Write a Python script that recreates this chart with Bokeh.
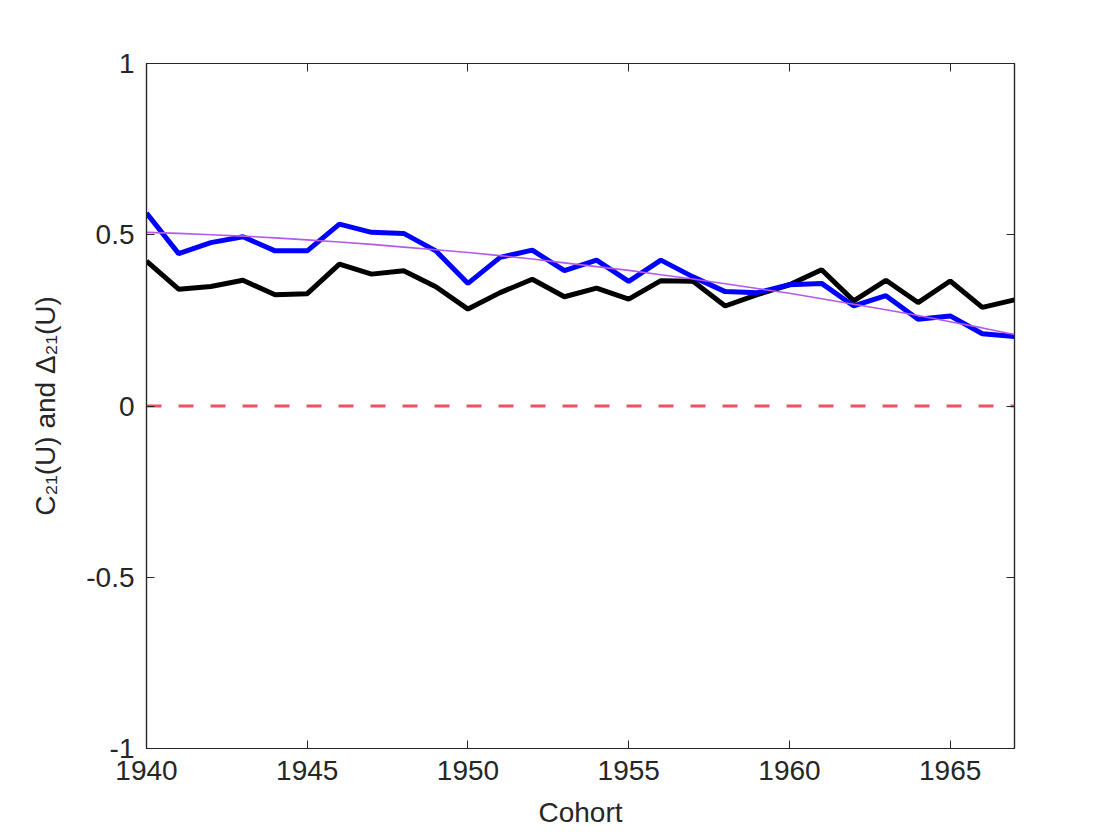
from bokeh.plotting import figure
from bokeh.models import LinearAxis, FixedTicker, Range1d
from bokeh.embed import file_html
from bokeh.resources import INLINE

years = list(range(1940, 1968))
blue_vals = [0.563, 0.445, 0.477, 0.494, 0.453, 0.453, 0.531, 0.507, 0.504, 0.453,
             0.358, 0.434, 0.455, 0.395, 0.426, 0.364, 0.426, 0.377, 0.334, 0.331,
             0.354, 0.358, 0.292, 0.322, 0.253, 0.263, 0.211, 0.203]
black_vals = [0.423, 0.341, 0.349, 0.367, 0.325, 0.328, 0.414, 0.385, 0.395, 0.348,
              0.283, 0.331, 0.370, 0.319, 0.344, 0.312, 0.366, 0.364, 0.292, 0.325,
              0.354, 0.398, 0.307, 0.367, 0.302, 0.365, 0.288, 0.310]
trend_vals = [0.507, 0.504, 0.500, 0.496, 0.491, 0.485, 0.479, 0.472, 0.464, 0.456,
              0.448, 0.439, 0.429, 0.418, 0.407, 0.396, 0.383, 0.371, 0.357, 0.343,
              0.329, 0.313, 0.297, 0.281, 0.264, 0.246, 0.228, 0.209]
x_ticks = [1940, 1945, 1950, 1955, 1960, 1965]
y_ticks = [-1, -0.5, 0, 0.5, 1]
y_tick_labels = {-1: "-1", -0.5: "-0.5", 0: "0", 0.5: "0.5", 1: "1"}

FONT = "Liberation Sans"
AXC = "#262626"

p = figure(width=1112, height=832, output_backend="svg", toolbar_location=None,
           x_range=Range1d(1940, 1967), y_range=Range1d(-1, 1),
           min_border_left=146, min_border_right=98, min_border_top=63,
           min_border_bottom=84)
p.xgrid.visible = False
p.ygrid.visible = False
p.outline_line_color = AXC
p.outline_line_width = 1.2

def style(ax):
    ax.axis_line_color = AXC
    ax.axis_line_width = 1.2
    ax.major_tick_line_color = AXC
    ax.major_tick_in = 8
    ax.major_tick_out = 0
    ax.minor_tick_line_color = None
    ax.major_label_text_font = FONT
    ax.major_label_text_font_size = "28px"
    ax.major_label_text_color = AXC
    ax.axis_label_text_font = FONT
    ax.axis_label_text_font_size = "28px"
    ax.axis_label_text_font_style = "normal"
    ax.axis_label_text_color = AXC

xa = p.xaxis[0]
xa.ticker = FixedTicker(ticks=x_ticks)
xa.axis_label = "Cohort"
xa.axis_label_standoff = 14
xa.major_label_standoff = 12
style(xa)

ya = p.yaxis[0]
ya.ticker = FixedTicker(ticks=y_ticks)
ya.major_label_overrides = y_tick_labels
ya.axis_label = "C\u2082\u2081(U) and \u0394\u2082\u2081(U)"
ya.axis_label_standoff = 22
ya.major_label_standoff = 12
style(ya)

top = LinearAxis(ticker=FixedTicker(ticks=x_ticks),
                 major_label_overrides={t: "" for t in x_ticks})
style(top)
p.add_layout(top, "above")
right = LinearAxis(ticker=FixedTicker(ticks=y_ticks),
                   major_label_overrides={t: "" for t in y_ticks})
style(right)
p.add_layout(right, "right")

p.line(years, [0] * len(years), line_color="#F2505E", line_width=3, line_dash="15 17")
p.line(years, black_vals, line_color="black", line_width=5)
p.line(years, blue_vals, line_color="#0000FF", line_width=5)
p.line(years, trend_vals, line_color="#B45AEB", line_width=1.6)

open("out.html", "w").write(file_html(p, INLINE))
